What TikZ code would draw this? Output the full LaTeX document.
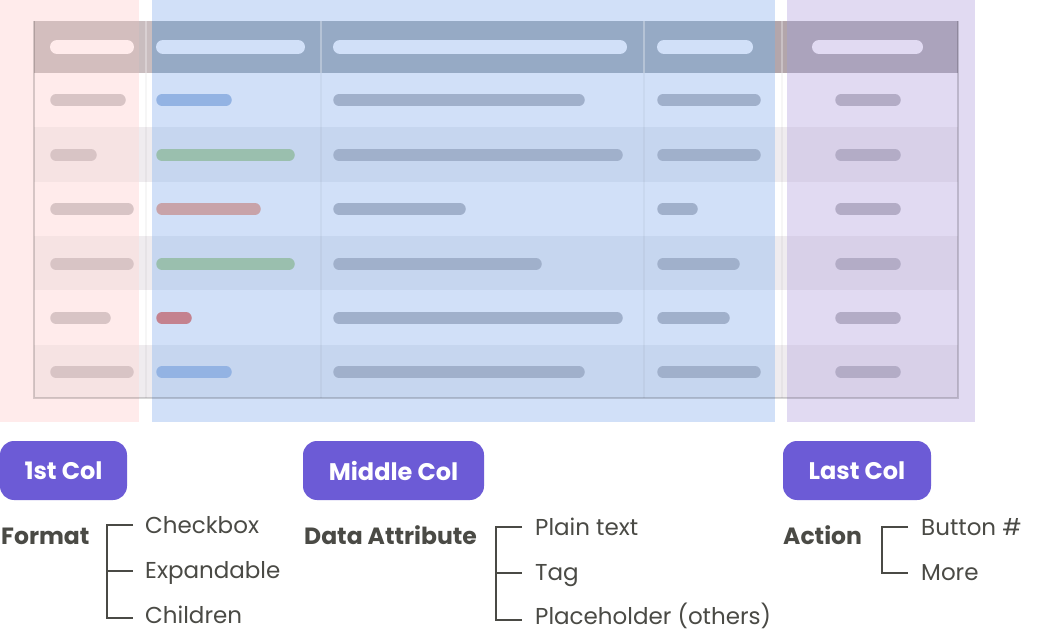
\documentclass[tikz,border=0pt]{standalone}
\usepackage{fontspec}
\setmainfont{Poppins}
\definecolor{pinkband}{HTML}{FFEBEB}
\definecolor{blueband}{HTML}{D1E0F8}
\definecolor{purpband}{HTML}{E1DAF2}
\definecolor{pinkhead}{HTML}{D3BEBE}
\definecolor{bluehead}{HTML}{96AAC5}
\definecolor{purphead}{HTML}{ABA3BC}
\definecolor{gaphead}{HTML}{C9BDBF}
\definecolor{gaphead2}{HTML}{B3A6AB}
\definecolor{pinkstripe}{HTML}{F6E3E3}
\definecolor{bluestripe}{HTML}{C6D6EF}
\definecolor{purpstripe}{HTML}{D8D0E8}
\definecolor{gapstripe}{HTML}{EFECEF}
\definecolor{pinkbar}{HTML}{D8C4C5}
\definecolor{bluebar}{HTML}{A0B0CB}
\definecolor{purpbar}{HTML}{B3ACC6}
\definecolor{tagblue}{HTML}{93B3E3}
\definecolor{taggreen}{HTML}{9ABFAE}
\definecolor{tagbrown}{HTML}{C8A3A9}
\definecolor{tagred}{HTML}{C4828F}
\definecolor{btn}{HTML}{6C5BD6}
\definecolor{ink}{HTML}{4A4A45}
\newcommand\pillbar[4]{\draw[bodybar,#4] (#1+6,#3) -- (#2-6,#3);}
\newcommand\headpill[3]{\draw[headbar,#3] (#1+7,47) -- (#2-7,47);}
\begin{document}
\begin{tikzpicture}[x=1pt,y=-1pt,
  bodybar/.style={line width=11.5pt,line cap=round},
  headbar/.style={line width=14pt,line cap=round},
  colbtn/.style={fill=btn,rounded corners=14pt,text=white,font=\fontsize{24}{28}\selectfont\bfseries,inner sep=0pt},
  lbl/.style={text=ink,font=\fontsize{23.5}{27}\selectfont\bfseries,inner sep=0pt,anchor=base west},
  item/.style={text=ink,font=\fontsize{23}{27}\selectfont,inner sep=0pt,anchor=base west},
  brk/.style={draw=ink,line width=1.4pt}]
\useasboundingbox (0,0) rectangle (1050,636);
\fill[white] (0,0) rectangle (1050,636);
% bands
\fill[pinkband] (0,0) rectangle (139,422);
\fill[blueband] (152,0) rectangle (775,422);
\fill[purpband] (787,0) rectangle (975,422);
% header
\fill[pinkhead] (34,21) rectangle (139,73);
\fill[gaphead] (139,21) rectangle (152,73);
\fill[bluehead] (152,21) rectangle (775,73);
\fill[gaphead2] (775,21) rectangle (787,73);
\fill[purphead] (787,21) rectangle (958,73);
% stripes
\foreach \ya/\yb in {127/182,236/290,345/398}{
  \fill[pinkstripe] (34,\ya) rectangle (139,\yb);
  \fill[gapstripe] (139,\ya) rectangle (152,\yb);
  \fill[bluestripe] (152,\ya) rectangle (775,\yb);
  \fill[gapstripe] (775,\ya) rectangle (787,\yb);
  \fill[purpstripe] (787,\ya) rectangle (958,\yb);
}
% column dividers
\foreach \cx in {146,321,644,782}{
  \draw[white,opacity=0.3,line width=1.5pt] (\cx,21) -- (\cx,73);
  \draw[black,opacity=0.035,line width=1.5pt] (\cx,73) -- (\cx,398);
}
% table outline
\draw[black,opacity=0.16,line width=2pt] (34,21) -- (34,398) -- (958,398) -- (958,21);
% header pills
\headpill{50}{134}{pinkband}
\headpill{156}{305}{blueband}
\headpill{333}{627}{blueband}
\headpill{657}{753}{blueband}
\headpill{812}{923}{purpband}
% body bars
\foreach \y/\a/\b/\c/\tc/\tw in {
   100/126/585/761/tagblue/232,
   155/97/623/761/taggreen/295,
   209/134/466/698/tagbrown/261,
   264/134/542/740/taggreen/295,
   318/111/623/730/tagred/192,
   372/134/585/761/tagblue/232}{
  \pillbar{50}{\a}{\y}{pinkbar}
  \pillbar{156}{\tw}{\y}{\tc}
  \pillbar{333}{\b}{\y}{bluebar}
  \pillbar{657}{\c}{\y}{bluebar}
  \pillbar{835}{901}{\y}{purpbar}
}
% buttons
\node[colbtn,minimum width=127pt,minimum height=59pt] (b1) at (63.5,470.5) {1st Col};
\node[colbtn,minimum width=181pt,minimum height=59pt] (b2) at (393.5,470.5) {Middle Col};
\node[colbtn,minimum width=148pt,minimum height=59pt] (b3) at (857,470.5) {Last Col};
% labels
\node[lbl] (fmt) at (1,544) {Format};
\node[lbl] (dat) at (304,544) {Data Attribute};
\node[lbl] (act) at (783,544) {Action};
% items
\node[item] (i1) at (145,533) {Checkbox};
\node[item] (i2) at (145,578) {Expandable};
\node[item] (i3) at (145,623) {Children};
\node[item] (j1) at (535,535) {Plain text};
\node[item] (j2) at (535,580) {Tag};
\node[item] (j3) at (535,624) {Placeholder (others)};
\node[item] (k1) at (921,535) {Button \#};
\node[item] (k2) at (921,580) {More};
% brackets
\draw[brk] (133,525) -- (107,525) -- (107,618) -- (133,618);
\draw[brk] (107,571) -- (133,571);
\draw[brk] (522,527) -- (496,527) -- (496,620) -- (522,620);
\draw[brk] (496,573) -- (522,573);
\draw[brk] (908,527) -- (882,527) -- (882,573) -- (908,573);
\end{tikzpicture}
\end{document}
